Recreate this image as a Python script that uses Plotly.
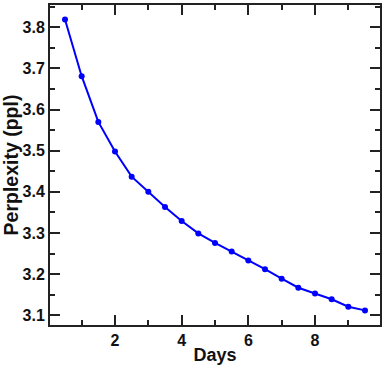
import plotly.graph_objects as go

days = [0.5, 1.0, 1.5, 2.0, 2.5, 3.0, 3.5, 4.0, 4.5, 5.0, 5.5, 6.0, 6.5, 7.0, 7.5, 8.0, 8.5, 9.0, 9.5]
ppl = [3.819, 3.681, 3.570, 3.498, 3.437, 3.400, 3.363, 3.329, 3.299, 3.276, 3.255, 3.233,
       3.212, 3.189, 3.167, 3.153, 3.139, 3.121, 3.112]

tick_font = dict(family="Liberation Sans, Arial", size=16, color="#111111", weight=700)
title_font = dict(family="Liberation Sans, Arial", size=18, color="#111111", weight=700)
ytitle_font = dict(family="Liberation Sans, Arial", size=19.5, color="#111111", weight=700)

fig = go.Figure()
fig.add_trace(go.Scatter(x=days, y=ppl, mode="lines+markers",
                         line=dict(color="#0000FF", width=2),
                         marker=dict(color="#0000FF", size=6)))

axis_common = dict(
    showline=True, linecolor="#222222", linewidth=2, mirror="allticks",
    ticks="inside", ticklen=10, tickwidth=1.5, tickcolor="#222222",
    showgrid=False, zeroline=False, automargin=False,
    tickfont=tick_font,
)

fig.update_layout(
    width=384, height=366,
    margin=dict(l=50, r=4, t=5, b=41),
    plot_bgcolor="white", paper_bgcolor="white",
    showlegend=False,
    xaxis=dict(range=[0.05, 9.95], dtick=2, tick0=0,
               minor=dict(ticks="inside", ticklen=5, dtick=1, tickcolor="#222222", tickwidth=1.5),
               title=dict(text="Days", standoff=0, font=title_font),
               **axis_common),
    yaxis=dict(range=[3.0765, 3.854], dtick=0.1, tick0=3.0, tickformat=".1f",
               minor=dict(ticks="inside", ticklen=5, dtick=0.05, tickcolor="#222222", tickwidth=1.5),
               title=dict(text="Perplexity (ppl)", standoff=0, font=ytitle_font),
               **axis_common),
)

fig.write_html("out.html", config={"displayModeBar": False},
               post_script="document.body.style.margin='0';")
